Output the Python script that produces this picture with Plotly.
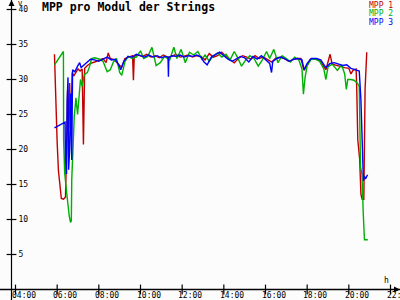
import plotly.graph_objects as go

# ---------------- data ----------------
series_names = ["MPP 1", "MPP 2", "MPP 3"]
series_colors = ["#c00000", "#00b000", "#0000ff"]

red_t = [5.87, 5.90, 5.95, 6.00, 6.06, 6.12, 6.20, 6.30, 6.40, 6.45, 6.50, 6.55, 6.60, 6.65, 6.72,
         6.80, 6.90, 7.00, 7.10, 7.20, 7.26, 7.32, 7.45, 7.60, 7.80, 8.00, 8.20, 8.35, 8.45, 8.55,
         8.75, 9.00, 9.10, 9.25, 9.45, 9.62, 9.66, 9.70, 9.90, 10.10, 10.30, 10.50, 10.70, 10.90,
         11.10, 11.30, 11.50, 11.70, 11.90, 12.10, 12.30, 12.50, 12.70, 12.90, 13.10, 13.30, 13.50,
         13.70, 13.90, 14.10, 14.30, 14.50, 14.70, 14.90, 15.10, 15.30, 15.50, 15.70, 15.90, 16.10,
         16.30, 16.50, 16.70, 16.90, 17.10, 17.30, 17.50, 17.70, 17.85, 18.00, 18.15, 18.40, 18.60,
         18.90, 19.00, 19.10, 19.20, 19.40, 19.60, 19.80, 20.00, 20.10, 20.20, 20.35, 20.38, 20.43,
         20.52, 20.58, 20.64, 20.72, 20.78, 20.86]
red_v = [33.6, 30.0, 26.0, 21.0, 17.0, 15.0, 13.0, 12.9, 13.2, 20.0, 28.5, 23.0, 29.5, 22.5, 31.0,
         30.5, 31.0, 31.5, 31.2, 31.5, 20.7, 31.6, 32.0, 32.3, 32.5, 32.8, 33.0, 32.4, 33.8, 33.0,
         32.8, 32.0, 31.8, 33.0, 33.2, 33.4, 29.9, 33.3, 33.5, 33.3, 33.6, 33.2, 33.4, 33.1,
         33.5, 33.2, 33.3, 33.6, 33.2, 33.3, 33.5, 33.2, 33.4, 33.3, 32.8, 33.7, 33.2,
         33.4, 33.9, 33.3, 32.8, 32.4, 33.0, 33.4, 33.2, 32.9, 33.4, 33.0, 33.2, 32.9,
         32.5, 33.1, 33.2, 33.0, 32.6, 32.8, 33.0, 33.0, 31.3, 32.0, 32.9, 32.9, 32.7,
         31.4, 32.5, 33.6, 32.2, 32.0, 31.8, 31.7, 31.6, 30.8, 31.3, 31.5, 28.6, 21.4,
         18.6, 13.6, 12.9, 12.9, 28.6, 33.9]

green_t = [5.87, 6.30, 6.31, 6.36, 6.45, 6.50, 6.58, 6.64, 6.68, 6.70, 6.76, 6.82, 6.90, 6.98, 7.05,
           7.12, 7.20, 7.30, 7.45, 7.55, 7.65, 7.80, 8.05, 8.20, 8.40, 8.55, 8.70, 8.85, 9.00, 9.10,
           9.25, 9.40, 9.60, 9.80, 10.00, 10.15, 10.35, 10.55, 10.75, 10.95, 11.15, 11.40, 11.60,
           11.75, 11.95, 12.15, 12.35, 12.55, 12.75, 12.95, 13.10, 13.30, 13.50, 13.70, 13.90,
           14.10, 14.30, 14.50, 14.65, 14.85, 15.05, 15.25, 15.45, 15.65, 15.85, 16.05, 16.20,
           16.40, 16.60, 16.80, 17.00, 17.20, 17.40, 17.60, 17.75, 17.82, 17.90, 18.00, 18.20,
           18.40, 18.60, 18.80, 18.90, 19.00, 19.20, 19.45, 19.65, 19.80, 19.88, 19.95, 20.10,
           20.25, 20.40, 20.50, 20.56, 20.63, 20.69, 20.75, 20.91]
green_v = [32.1, 34.0, 21.4, 16.7, 14.0, 12.4, 10.5, 9.6, 9.8, 15.7, 21.4, 24.7, 27.4, 25.0, 27.5,
           30.0, 29.0, 30.7, 31.0, 31.8, 33.0, 33.1, 32.9, 32.6, 31.1, 31.4, 32.5, 33.0, 31.0, 30.6,
           32.5, 33.3, 33.0, 33.2, 34.1, 33.0, 33.3, 34.6, 32.0, 32.4, 33.3, 32.8, 34.6,
           33.0, 34.3, 32.4, 33.9, 33.5, 34.0, 32.9, 33.5, 32.6, 33.4, 33.8, 33.2,
           33.6, 32.8, 34.0, 33.2, 31.9, 32.8, 33.4, 33.0, 31.9, 32.8, 34.0, 33.0,
           34.3, 32.4, 33.4, 33.0, 32.5, 33.2, 32.8, 31.5, 27.9, 30.3, 32.0, 32.9,
           32.9, 32.6, 31.5, 30.0, 31.8, 32.2, 31.3, 32.1, 30.8, 28.6, 30.0, 30.0,
           29.9, 29.5, 29.0, 17.5, 16.5, 11.0, 7.1, 7.1]

blue_t = [5.87, 6.38, 6.40, 6.45, 6.48, 6.52, 6.55, 6.60, 6.65, 6.70, 6.74, 6.85, 6.98, 7.08, 7.15,
          7.30, 7.45, 7.60, 7.80, 8.00, 8.20, 8.40, 8.60, 8.80, 9.00, 9.05, 9.20, 9.40, 9.60, 9.80,
          10.00, 10.20, 10.40, 10.60, 10.80, 11.00, 11.20, 11.32, 11.34, 11.36, 11.50, 11.70,
          11.90, 12.10, 12.30, 12.50, 12.70, 12.90, 13.05, 13.20, 13.40, 13.60, 13.80, 14.00,
          14.20, 14.40, 14.60, 14.80, 15.00, 15.20, 15.40, 15.60, 15.80, 16.00, 16.20, 16.29,
          16.35, 16.55, 16.75, 16.95, 17.15, 17.35, 17.55, 17.75, 17.85, 18.00, 18.20, 18.45,
          18.65, 18.90, 19.10, 19.30, 19.50, 19.70, 19.90, 20.10, 20.30, 20.50, 20.58, 20.64,
          20.70, 20.74, 20.80, 20.90]
blue_v = [23.1, 23.9, 18.6, 16.5, 27.0, 30.3, 17.1, 20.0, 28.0, 18.5, 31.4, 31.1, 31.9, 32.4, 31.7,
          32.1, 32.6, 32.9, 32.8, 32.6, 32.9, 33.2, 32.8, 32.9, 31.8, 31.4, 32.6, 33.3, 33.2, 33.6,
          33.4, 33.2, 33.5, 33.2, 33.4, 33.1, 33.3, 33.2, 30.4, 33.1, 33.4, 33.3,
          33.5, 33.2, 33.4, 33.3, 33.5, 33.2, 32.5, 32.1, 33.2, 33.5, 33.9, 33.4,
          32.9, 32.6, 33.0, 33.3, 33.1, 32.5, 33.3, 32.9, 33.4, 32.8, 32.3, 31.0,
          32.6, 33.0, 33.2, 32.9, 32.6, 32.9, 33.0, 32.8, 31.4, 32.3, 33.0, 33.0,
          32.8, 31.7, 32.3, 32.4, 32.2, 32.0, 32.1, 31.6, 31.4, 31.2, 27.1, 21.4,
          15.5, 16.2, 15.8, 16.4]

x_tick_vals = [4, 6, 8, 10, 12, 14, 16, 18, 20, 22]
x_tick_text = ["04:00", "06:00", "08:00", "10:00", "12:00", "14:00", "16:00", "18:00", "20:00", "22:00"]
y_tick_vals = [5, 10, 15, 20, 25, 30, 35, 40]
y_tick_text = ["5", "10", "15", "20", "25", "30", "35", "40"]

title_text = "MPP pro Modul der Strings"
x_unit = "h"
y_unit = "V"

# ---------------- figure ----------------
X_RANGE = [3.256, 22.456]
Y_RANGE = [-1.5, 41.357]
y_axis_x = 3.808
x_unit_pos = 21.83

MONO = "DejaVu Sans Mono"
fig = go.Figure()
for t, v, name, col in zip([red_t, green_t, blue_t], [red_v, green_v, blue_v],
                           series_names, series_colors):
    fig.add_trace(go.Scatter(x=t, y=v, mode="lines", name=name,
                             line=dict(color=col, width=1.4), showlegend=False))

# axes drawn through the data scale
fig.add_trace(go.Scatter(x=X_RANGE, y=[0, 0], mode="lines",
                         line=dict(color="black", width=1.3), showlegend=False))
fig.add_trace(go.Scatter(x=[y_axis_x, y_axis_x], y=Y_RANGE, mode="lines",
                         line=dict(color="black", width=1.2), showlegend=False))
fig.add_trace(go.Scatter(x=x_tick_vals, y=[0] * len(x_tick_vals), mode="markers",
                         marker=dict(symbol="line-ns-open", size=7, color="black",
                                     line=dict(color="black", width=1.2)),
                         showlegend=False, cliponaxis=False))
fig.add_trace(go.Scatter(x=[y_axis_x] * len(y_tick_vals), y=y_tick_vals, mode="markers",
                         marker=dict(symbol="line-ew-open", size=7, color="black",
                                     line=dict(color="black", width=1.2)),
                         showlegend=False, cliponaxis=False))

fig.update_layout(
    width=400, height=300, margin=dict(l=0, r=0, t=0, b=0, pad=0),
    paper_bgcolor="#fcfcfc", plot_bgcolor="#fcfcfc",
    xaxis=dict(range=X_RANGE, automargin=False, showticklabels=False,
               showgrid=False, zeroline=False, showline=False, ticks=""),
    yaxis=dict(range=Y_RANGE, anchor="free",
               position=(y_axis_x - X_RANGE[0]) / (X_RANGE[1] - X_RANGE[0]),
               tickvals=y_tick_vals, ticktext=y_tick_text, automargin=False,
               ticklabelposition="inside", ticklabelstandoff=3, ticklabeloverflow="allow",
               showgrid=False, showline=False, zeroline=False, ticks="",
               tickfont=dict(family=MONO, size=8, color="black")),
    showlegend=False,
)

ann = []
# x tick labels, placed on the x data scale
for tv, tt in zip(x_tick_vals, x_tick_text):
    ann.append(dict(text=tt, x=tv, y=0, xref="x", yref="paper", xanchor="center",
                    yanchor="bottom", xshift=8, yshift=-2, showarrow=False,
                    font=dict(family=MONO, size=8, color="black")))
ann.append(dict(text="<b>" + title_text + "</b>", x=40 / 400, y=1 - 7 / 300, xref="paper",
                yref="paper", xanchor="left", yanchor="middle", showarrow=False,
                font=dict(family=MONO, size=11.5, color="black")))
for i, (name, col) in enumerate(zip(series_names, series_colors)):
    ann.append(dict(text=name, x=395 / 400, y=1 - (5 + 8.5 * i) / 300, xref="paper",
                    yref="paper", xanchor="right", yanchor="middle", showarrow=False,
                    font=dict(family=MONO, size=8, color=col)))
ann.append(dict(text=y_unit, x=y_axis_x, y=1, xref="x", yref="paper",
                xanchor="left", yanchor="top", xshift=4, yshift=2, showarrow=False,
                font=dict(family=MONO, size=7, color="black")))
ann.append(dict(text=x_unit, x=x_unit_pos, y=0, xref="x", yref="y", xanchor="center",
                yanchor="bottom", yshift=3, showarrow=False,
                font=dict(family=MONO, size=8, color="black")))
ann.append(dict(x=y_axis_x, y=Y_RANGE[1], xref="x", yref="y", ax=0, ay=8,
                showarrow=True, arrowhead=2, arrowsize=1.2, arrowwidth=1,
                arrowcolor="black", text=""))
ann.append(dict(x=X_RANGE[1], y=0, xref="x", yref="y", ax=-8, ay=0, showarrow=True,
                arrowhead=2, arrowsize=1.2, arrowwidth=1, arrowcolor="black", text=""))
fig.update_layout(annotations=ann)

fig.write_html("out.html")
